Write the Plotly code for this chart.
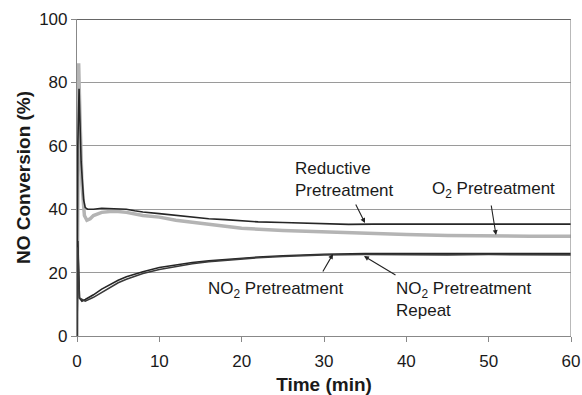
import plotly.graph_objects as go

# ---- data ----
red_t = [0, 0.1, 0.25, 0.5, 0.8, 1.0, 1.3, 2, 3, 4, 5, 6, 7, 8, 10, 12, 14, 16, 18, 20,
         22, 25, 28, 30, 33, 36, 40, 45, 50, 55, 60]
red_v = [0, 60, 78, 55, 43, 40.5, 40.0, 40.0, 40.3, 40.2, 40.0, 40.0, 39.5, 39.1, 38.6, 38.0,
         37.5, 37.0, 36.7, 36.3, 36.0, 35.8, 35.5, 35.3, 35.2, 35.3, 35.3, 35.2, 35.3, 35.2, 35.3]

o2_t = [0, 0.1, 0.2, 0.35, 0.6, 0.9, 1.2, 1.6, 2, 3, 4, 5, 6, 8, 10, 12, 15, 18, 20,
        25, 30, 35, 40, 45, 50, 55, 60]
o2_v = [0, 70, 86, 70, 48, 38, 36.5, 37.0, 38.0, 39.0, 39.3, 39.3, 39.0, 38.0, 37.5, 36.5,
        35.5, 34.5, 34.0, 33.3, 32.8, 32.3, 32.0, 31.7, 31.5, 31.5, 31.5]

no2_t = [0, 0.1, 0.3, 0.6, 1, 2, 3, 4, 5, 6, 7, 8, 10, 12, 14, 16, 18, 20, 22, 25, 28,
         30, 35, 40, 45, 50, 55, 60]
no2_v = [0, 30, 12, 11, 11.5, 13.0, 14.8, 16.3, 17.6, 18.7, 19.6, 20.3, 21.6, 22.5, 23.2,
         23.7, 24.1, 24.6, 24.9, 25.3, 25.6, 25.8, 26.0, 26.0, 26.0, 26.1, 26.0, 26.0]

rep_t = [0, 0.1, 0.3, 0.6, 1, 2, 3, 4, 5, 6, 7, 8, 10, 12, 14, 16, 18, 20, 22, 25, 28,
         30, 35, 40, 45, 50, 55, 60]
rep_v = [0, 28, 12, 11.5, 11.0, 12.2, 13.8, 15.4, 16.8, 17.9, 18.9, 19.7, 21.0, 22.0, 22.8,
         23.4, 23.9, 24.3, 24.7, 25.1, 25.4, 25.6, 25.7, 25.6, 25.6, 25.7, 25.6, 25.6]

x_ticks = [0, 10, 20, 30, 40, 50, 60]
y_ticks = [0, 20, 40, 60, 80, 100]

FONT = "Liberation Sans, Arial, sans-serif"

fig = go.Figure()
fig.add_trace(go.Scatter(x=o2_t, y=o2_v, mode="lines",
                         line=dict(color="#b4b4b4", width=3.5), name="O2"))
fig.add_trace(go.Scatter(x=red_t, y=red_v, mode="lines",
                         line=dict(color="#262626", width=1.6), name="Reductive"))
fig.add_trace(go.Scatter(x=no2_t, y=no2_v, mode="lines",
                         line=dict(color="#262626", width=1.6), name="NO2"))
fig.add_trace(go.Scatter(x=rep_t, y=rep_v, mode="lines",
                         line=dict(color="#3a3a3a", width=1.6), name="NO2 repeat"))

def px_to_x(p):
    return (p - 77) / (494 / 60)

def px_to_y(p):
    return (336 - p) / (317 / 100)

annos = []
# text labels
annos.append(dict(x=px_to_x(293), y=px_to_y(179), text="Reductive<br>Pretreatment",
                  xanchor="left", yanchor="middle", align="left", showarrow=False))
annos.append(dict(x=px_to_x(493), y=px_to_y(190), text="O<sub>2</sub> Pretreatment",
                  xanchor="center", yanchor="middle", showarrow=False))
annos.append(dict(x=px_to_x(275), y=px_to_y(290), text="NO<sub>2</sub> Pretreatment",
                  xanchor="center", yanchor="middle", showarrow=False))
annos.append(dict(x=px_to_x(394), y=px_to_y(299), text="NO<sub>2</sub> Pretreatment<br>Repeat",
                  xanchor="left", yanchor="middle", align="left", showarrow=False))
# arrows (head at x,y ; tail at ax,ay)
arrows = [((365, 223), (355, 203)),
          ((496, 235), (491, 204)),
          ((333, 254), (322, 273)),
          ((364, 256), (397, 276))]
for (hx, hy), (tx, ty) in arrows:
    annos.append(dict(x=px_to_x(hx), y=px_to_y(hy), ax=px_to_x(tx), ay=px_to_y(ty),
                      axref="x", ayref="y", text="", showarrow=True,
                      arrowhead=2, arrowsize=0.9, arrowwidth=1.1, arrowcolor="#222"))

for a in annos:
    a.setdefault("font", dict(family=FONT, size=17, color="#1a1a1a"))
    a["xref"] = "x"
    a["yref"] = "y"

fig.update_layout(
    width=582, height=395,
    margin=dict(l=77, r=11, t=19, b=59),
    paper_bgcolor="white", plot_bgcolor="white",
    showlegend=False,
    font=dict(family=FONT, size=17, color="#1a1a1a"),
    annotations=annos,
    shapes=[
        dict(type="line", xref="paper", yref="y", x0=0, x1=1, y0=100, y1=100,
             line=dict(color="#333", width=1.5)),
        dict(type="line", xref="x", yref="paper", x0=60, x1=60, y0=0, y1=1,
             line=dict(color="#8a8a8a", width=1.2)),
    ],
    xaxis=dict(range=[0, 60], tickvals=x_ticks, ticks="outside", ticklen=5,
               tickcolor="#888", showline=True, linecolor="#888", linewidth=1.2,
               showgrid=False, zeroline=False, automargin=False,
               ticklabelstandoff=4,
               tickfont=dict(family=FONT, size=17, color="#1a1a1a"),
               title=dict(text="<b>Time (min)</b>", standoff=10,
                          font=dict(family=FONT, size=19, color="#1a1a1a"))),
    yaxis=dict(range=[0, 100], tickvals=y_ticks, ticks="outside", ticklen=5,
               tickcolor="#888", showline=True, linecolor="#888", linewidth=1.2,
               showgrid=True, gridcolor="#9a9a9a", gridwidth=1, zeroline=False,
               automargin=False,
               tickfont=dict(family=FONT, size=17, color="#1a1a1a"),
               title=dict(text="<b>NO Conversion (%)</b>", standoff=3,
                          font=dict(family=FONT, size=19, color="#1a1a1a"))),
)

fig.write_html("out.html")
